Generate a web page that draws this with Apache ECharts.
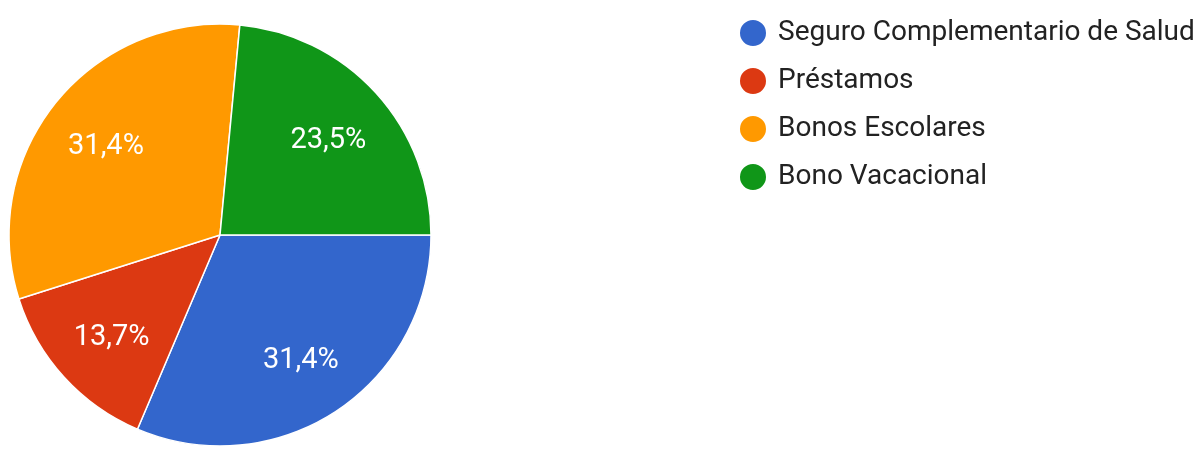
<!DOCTYPE html>
<html>
<head>
<meta charset="utf-8">
<script src="https://cdn.jsdelivr.net/npm/echarts@6/dist/echarts.min.js"></script>
<style>
  html, body { margin: 0; padding: 0; background: #fff; }
  #chart { width: 1204px; height: 449px; }
</style>
</head>
<body>
<div id="chart"></div>
<script>
// Benefit categories and their shares (percent)
const categories = ['Seguro Complementario de Salud', 'Préstamos', 'Bonos Escolares', 'Bono Vacacional'];
const shares = [31.4, 13.7, 31.4, 23.5];
const colors = ['#3366cc', '#dc3912', '#ff9900', '#109618'];

const FONT = 'Roboto, Arial, sans-serif';
const CENTER = [220, 235];
const R = 211;

const pieData = categories.map((name, i) => ({ name, value: shares[i] }));
const fmt = p => p.value.toFixed(1).replace('.', ',') + '%';

const chart = echarts.init(document.getElementById('chart'), null, { renderer: 'canvas' });
chart.setOption({
  animation: false,
  color: colors,
  legend: {
    orient: 'vertical',
    left: 733,
    top: 13,
    icon: 'circle',
    itemWidth: 28,
    itemHeight: 28,
    itemGap: 18,
    data: categories,
    textStyle: {
      fontFamily: FONT,
      fontSize: 28,
      lineHeight: 28,
      color: '#222222',
      padding: [0, 0, 0, 6]
    }
  },
  series: [
    {
      name: 'Beneficios',
      type: 'pie',
      center: CENTER,
      radius: [0, R],
      startAngle: 0,
      clockwise: true,
      itemStyle: { borderColor: '#ffffff', borderWidth: 1.5 },
      label: { show: false },
      labelLine: { show: false },
      emphasis: { disabled: true },
      data: pieData
    },
    {
      // label ring: places the percentage text at about 68% of the radius
      name: 'Etiquetas',
      type: 'pie',
      center: CENTER,
      radius: [R * 0.36, R],
      startAngle: 0,
      clockwise: true,
      silent: true,
      itemStyle: { color: 'rgba(0,0,0,0)', borderWidth: 0 },
      label: {
        show: true,
        position: 'inside',
        formatter: fmt,
        fontFamily: FONT,
        fontSize: 29,
        color: '#ffffff',
        offset: [0, 4]
      },
      labelLine: { show: false },
      emphasis: { disabled: true },
      data: pieData
    }
  ]
});
</script>
</body>
</html>
